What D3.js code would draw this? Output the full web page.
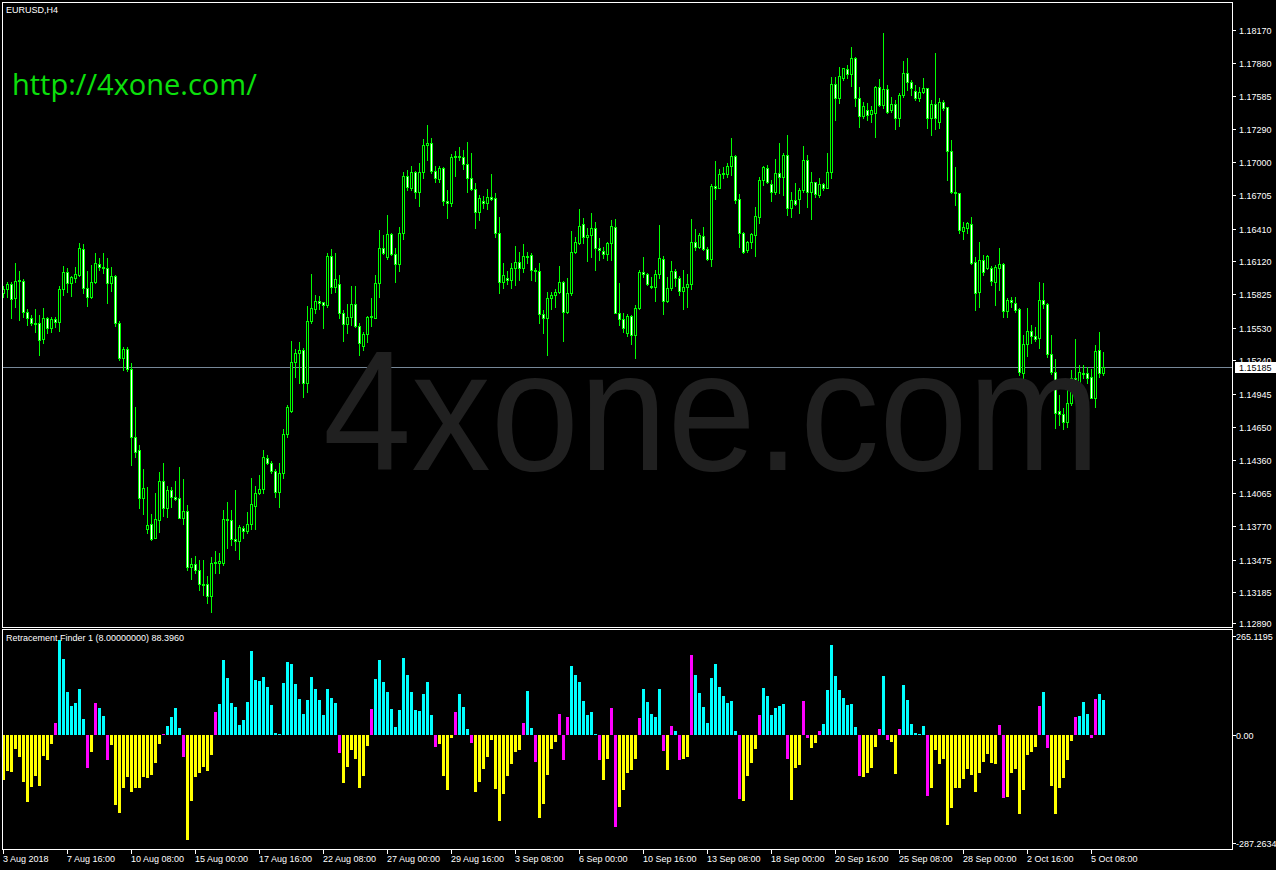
<!DOCTYPE html>
<html>
<head>
<meta charset="utf-8">
<script src="https://cdn.jsdelivr.net/npm/d3@7"></script>
<style>
html, body { margin: 0; padding: 0; background: #000; overflow: hidden; }
svg { display: block; }
text { font-family: "Liberation Sans", Arial, sans-serif; font-size: 9px; fill: #fff; }
</style>
</head>
<body>
<div id="chart"></div>
<script>
// EURUSD H4, 3 Aug 2018 00:00 .. 5 Oct 2018 20:00 (one value per bar)
var open = [
1.15835,1.15871,1.15918,1.15791,1.15941,1.15944,1.15667,1.15616,1.15569,1.15569,
1.15427,1.15613,1.15525,1.15604,1.15578,1.15871,1.16027,1.15930,1.15974,1.15998,
1.16225,1.15879,1.15805,1.15938,1.16095,1.16072,1.16057,1.15924,1.15989,1.15569,
1.15265,1.15341,1.15161,1.14564,1.14446,1.14017,1.13742,1.13789,1.13668,1.13825,
1.14171,1.13934,1.14091,1.14032,1.14017,1.13846,1.13905,1.13411,1.13435,1.13382,
1.13257,1.13257,1.13154,1.13441,1.13441,1.13441,1.13822,1.13825,1.13654,1.13639,
1.13754,1.13727,1.13789,1.13952,1.14061,1.14097,1.14372,1.14327,1.14259,1.14070,
1.14239,1.14588,1.14795,1.15223,1.15303,1.15333,1.15037,1.15590,1.15693,1.15767,
1.15755,1.15732,1.16166,1.15894,1.15918,1.15658,1.15560,1.15628,1.15738,1.15546,
1.15371,1.15472,1.15625,1.15619,1.15924,1.16234,1.16154,1.16358,1.16181,1.16092,
1.16367,1.16876,1.16766,1.16908,1.16731,1.16908,1.17151,1.17165,1.16923,1.16846,
1.16944,1.16651,1.16633,1.17041,1.17053,1.17047,1.16979,1.16855,1.16763,1.16559,
1.16654,1.16639,1.16687,1.16678,1.16373,1.15939,1.15968,1.15953,1.16057,1.16110,
1.16057,1.16166,1.16172,1.16042,1.16030,1.15649,1.15613,1.15791,1.15820,1.15850,
1.15938,1.15666,1.15841,1.16204,1.16278,1.16447,1.16331,1.16352,1.16411,1.16237,
1.16207,1.16181,1.16278,1.16426,1.15663,1.15604,1.15480,1.15634,1.15465,1.15702,
1.16027,1.16006,1.15903,1.15888,1.16003,1.16136,1.15770,1.15879,1.16036,1.15968,
1.15859,1.15894,1.15915,1.16287,1.16249,1.16343,1.16225,1.16136,1.16787,1.16772,
1.16893,1.16893,1.16964,1.17053,1.16668,1.16373,1.16219,1.16290,1.16352,1.16515,
1.16840,1.16943,1.16801,1.16731,1.16899,1.16864,1.17062,1.16589,1.16663,1.16668,
1.16751,1.17017,1.16736,1.16819,1.16707,1.16801,1.16772,1.16907,1.17688,1.17564,
1.17747,1.17824,1.17777,1.17918,1.17564,1.17410,1.17460,1.17422,1.17431,1.17661,
1.17505,1.17646,1.17460,1.17513,1.17392,1.17593,1.17785,1.17711,1.17632,1.17570,
1.17617,1.17652,1.17392,1.17513,1.17351,1.17528,1.17484,1.17097,1.16736,1.16721,
1.16390,1.16411,1.16446,1.16109,1.15849,1.16130,1.16056,1.16056,1.15938,1.16056,
1.16095,1.15681,1.15775,1.15746,1.15695,1.15131,1.15382,1.15500,1.15456,1.15441,
1.15775,1.15737,1.15293,1.15140,1.14791,1.14764,1.14690,1.14859,1.15081,1.15030,
1.15125,1.15125,1.15090,1.14909,1.15332,1.15125];

var high = [
1.15900,1.15938,1.15938,1.16107,1.16033,1.15959,1.15693,1.15643,1.15696,1.15643,
1.15702,1.15628,1.15622,1.15622,1.15900,1.16077,1.16057,1.15989,1.16066,1.16278,
1.16273,1.16033,1.16086,1.16190,1.16145,1.16190,1.16145,1.16066,1.15998,1.15590,
1.15356,1.15362,1.15214,1.14830,1.14490,1.14280,1.14121,1.13878,1.14067,1.14251,
1.14333,1.14126,1.14121,1.14171,1.14295,1.14189,1.13958,1.13485,1.13506,1.13470,
1.13470,1.13328,1.13500,1.13550,1.13535,1.13914,1.13985,1.13914,1.14091,1.13781,
1.13772,1.13896,1.14197,1.14126,1.14224,1.14446,1.14401,1.14348,1.14274,1.14327,
1.14629,1.14848,1.15412,1.15342,1.15401,1.15347,1.15723,1.16007,1.15820,1.15812,
1.15761,1.16190,1.16225,1.16190,1.15998,1.15687,1.15738,1.15900,1.15900,1.15569,
1.15495,1.15634,1.15791,1.15998,1.16397,1.16352,1.16530,1.16373,1.16234,1.16426,
1.16914,1.16929,1.16964,1.16920,1.16988,1.17204,1.17328,1.17210,1.16964,1.16964,
1.16958,1.16752,1.17071,1.17100,1.17130,1.17106,1.17177,1.17077,1.16811,1.16707,
1.16698,1.16760,1.16893,1.16728,1.16515,1.16101,1.16033,1.16101,1.16255,1.16205,
1.16273,1.16205,1.16190,1.16057,1.16101,1.15687,1.15850,1.15850,1.15874,1.16078,
1.15944,1.15968,1.16388,1.16337,1.16580,1.16500,1.16417,1.16544,1.16465,1.16323,
1.16243,1.16293,1.16485,1.16491,1.15924,1.15663,1.15649,1.15643,1.15731,1.16042,
1.16154,1.16012,1.15983,1.16042,1.16441,1.16166,1.15977,1.16122,1.16048,1.15989,
1.16042,1.16006,1.16494,1.16405,1.16367,1.16426,1.16249,1.16804,1.17008,1.16935,
1.16958,1.16988,1.17209,1.17062,1.16716,1.16382,1.16302,1.16373,1.16598,1.16864,
1.16964,1.16973,1.16840,1.17023,1.17165,1.17082,1.17239,1.16736,1.16810,1.16766,
1.17141,1.17062,1.16914,1.16825,1.16855,1.16810,1.17082,1.17756,1.17756,1.17839,
1.17836,1.17859,1.18016,1.17933,1.17661,1.17534,1.17519,1.17499,1.17676,1.17735,
1.18140,1.17682,1.17578,1.17549,1.17608,1.17895,1.17918,1.17726,1.17682,1.17667,
1.17741,1.17658,1.17549,1.17963,1.17564,1.17549,1.17490,1.17194,1.16958,1.16727,
1.16464,1.16470,1.16514,1.16160,1.16293,1.16174,1.16174,1.16077,1.16086,1.16239,
1.16106,1.15790,1.15805,1.15805,1.15707,1.15465,1.15701,1.15554,1.15539,1.15938,
1.15929,1.15746,1.15465,1.15252,1.14933,1.14815,1.14992,1.15155,1.15429,1.15199,
1.15199,1.15184,1.15163,1.15376,1.15489,1.15317];

var low = [
1.15805,1.15805,1.15613,1.15717,1.15599,1.15628,1.15554,1.15554,1.15495,1.15288,
1.15398,1.15480,1.15495,1.15534,1.15504,1.15820,1.15850,1.15814,1.15938,1.15989,
1.15835,1.15726,1.15791,1.15924,1.16042,1.16012,1.15752,1.15859,1.15545,1.15244,
1.15155,1.15146,1.14313,1.14387,1.13928,1.13878,1.13707,1.13648,1.13662,1.13721,
1.13860,1.13855,1.13943,1.14002,1.13840,1.13789,1.13382,1.13299,1.13358,1.13204,
1.13160,1.13092,1.13012,1.13352,1.13358,1.13426,1.13574,1.13603,1.13559,1.13476,
1.13662,1.13707,1.13742,1.13742,1.14053,1.14067,1.14319,1.14245,1.14032,1.13943,
1.14200,1.14558,1.14786,1.15096,1.15043,1.14913,1.14963,1.15569,1.15664,1.15693,
1.15525,1.15717,1.15835,1.15850,1.15613,1.15415,1.15480,1.15554,1.15540,1.15288,
1.15333,1.15407,1.15546,1.15613,1.15806,1.16184,1.16137,1.16172,1.15939,1.16033,
1.16317,1.16752,1.16752,1.16684,1.16613,1.16861,1.17018,1.16899,1.16825,1.16825,
1.16619,1.16506,1.16613,1.16879,1.17018,1.16941,1.16737,1.16752,1.16412,1.16486,
1.16595,1.16583,1.16663,1.16338,1.15841,1.15885,1.15915,1.15880,1.15909,1.15953,
1.16027,1.16101,1.15953,1.15948,1.15569,1.15486,1.15288,1.15693,1.15717,1.15835,
1.15415,1.15658,1.15820,1.16196,1.16272,1.16284,1.16125,1.16154,1.16042,1.16130,
1.16145,1.16130,1.16130,1.15658,1.15554,1.15495,1.15457,1.15386,1.15258,1.15693,
1.15983,1.15909,1.15879,1.15770,1.15968,1.15649,1.15761,1.15864,1.15903,1.15820,
1.15693,1.15717,1.15870,1.16219,1.16234,1.16219,1.16130,1.16080,1.16671,1.16766,
1.16855,1.16869,1.16884,1.16639,1.16249,1.16196,1.16204,1.16234,1.16166,1.16456,
1.16796,1.16810,1.16657,1.16716,1.16722,1.16707,1.16530,1.16515,1.16618,1.16544,
1.16736,1.16598,1.16491,1.16686,1.16692,1.16751,1.16766,1.16854,1.17372,1.17519,
1.17726,1.17741,1.17673,1.17496,1.17312,1.17386,1.17372,1.17357,1.17224,1.17499,
1.17481,1.17431,1.17445,1.17292,1.17321,1.17573,1.17638,1.17593,1.17549,1.17540,
1.17608,1.17298,1.17239,1.17292,1.17298,1.17460,1.16839,1.16721,1.16618,1.16366,
1.16316,1.16366,1.16092,1.15687,1.15716,1.15997,1.16047,1.15908,1.15731,1.15864,
1.15627,1.15627,1.15716,1.15672,1.15110,1.15042,1.15282,1.15391,1.15412,1.15353,
1.15701,1.15273,1.15116,1.14637,1.14667,1.14631,1.14652,1.14844,1.14992,1.14918,
1.15081,1.15042,1.14903,1.14829,1.15095,1.15110];

var close = [
1.15871,1.15918,1.15782,1.15947,1.15950,1.15667,1.15613,1.15569,1.15560,1.15421,
1.15613,1.15525,1.15607,1.15578,1.15871,1.16027,1.15930,1.15977,1.16004,1.16234,
1.15879,1.15805,1.15938,1.16101,1.16066,1.16057,1.15924,1.15989,1.15569,1.15265,
1.15341,1.15161,1.14564,1.14431,1.14017,1.14106,1.13781,1.13656,1.13831,1.14171,
1.13934,1.14091,1.14026,1.14014,1.13846,1.13905,1.13411,1.13435,1.13382,1.13255,
1.13249,1.13154,1.13441,1.13453,1.13461,1.13831,1.13831,1.13654,1.13639,1.13766,
1.13727,1.13789,1.13964,1.14061,1.14097,1.14381,1.14327,1.14259,1.14070,1.14239,
1.14588,1.14830,1.15223,1.15303,1.15333,1.15037,1.15590,1.15702,1.15767,1.15752,
1.15732,1.16166,1.15894,1.15959,1.15658,1.15560,1.15628,1.15738,1.15548,1.15392,
1.15472,1.15625,1.15634,1.15924,1.16234,1.16196,1.16358,1.16181,1.16092,1.16367,
1.16876,1.16775,1.16908,1.16731,1.16908,1.17151,1.17165,1.16923,1.16855,1.16944,
1.16657,1.16633,1.17041,1.17053,1.17044,1.16979,1.16855,1.16763,1.16559,1.16678,
1.16639,1.16687,1.16669,1.16373,1.15939,1.15998,1.15953,1.16057,1.16110,1.16057,
1.16166,1.16154,1.16042,1.16033,1.15649,1.15613,1.15791,1.15820,1.15850,1.15939,
1.15672,1.15841,1.16204,1.16293,1.16435,1.16331,1.16352,1.16411,1.16234,1.16222,
1.16181,1.16278,1.16435,1.15663,1.15604,1.15524,1.15634,1.15465,1.15702,1.16027,
1.16006,1.15918,1.15888,1.16003,1.16145,1.15770,1.15879,1.16036,1.15968,1.15859,
1.15894,1.15915,1.16287,1.16249,1.16352,1.16225,1.16136,1.16787,1.16772,1.16893,
1.16899,1.16964,1.17053,1.16663,1.16373,1.16204,1.16290,1.16361,1.16524,1.16840,
1.16952,1.16825,1.16731,1.16899,1.16864,1.17062,1.16589,1.16663,1.16624,1.16751,
1.17017,1.16736,1.16819,1.16716,1.16801,1.16772,1.16908,1.17688,1.17570,1.17762,
1.17830,1.17777,1.17918,1.17564,1.17410,1.17496,1.17416,1.17460,1.17667,1.17505,
1.17646,1.17445,1.17513,1.17392,1.17593,1.17785,1.17711,1.17652,1.17564,1.17617,
1.17652,1.17392,1.17513,1.17386,1.17528,1.17475,1.17097,1.16736,1.16721,1.16396,
1.16426,1.16455,1.16100,1.15840,1.16130,1.16027,1.16165,1.15947,1.16065,1.16095,
1.15681,1.15775,1.15755,1.15687,1.15140,1.15382,1.15500,1.15459,1.15429,1.15775,
1.15737,1.15293,1.15140,1.14770,1.14761,1.14690,1.14859,1.15081,1.15030,1.15134,
1.15116,1.15087,1.14909,1.15323,1.15125,1.15185];

// Retracement Finder 1 (8) histogram
var finder = [
-115,-92,-94,-36,-56,-120,-171,-133,-105,-130,
-54,-64,-23,31,242,194,110,74,82,117,
41,-84,-43,82,69,48,-64,-26,-179,-199,
-135,-107,-145,-135,-135,-107,-110,-102,-71,-23,
2,23,46,69,18,-56,-268,-168,-107,-97,
-82,-92,-51,59,79,191,145,82,71,26,
38,84,214,140,138,148,122,77,5,3,
133,186,181,130,92,54,89,148,117,89,
51,117,94,82,-46,-122,-82,-38,-61,-135,
-105,-28,66,143,191,135,110,66,20,64,
196,153,110,64,61,105,135,51,-31,-23,
-105,-140,-8,59,105,71,15,-20,-145,-120,
-87,-56,-13,-138,-219,-150,-105,-74,-43,-38,
31,112,18,-69,-212,-176,-102,-36,-18,54,
-64,46,176,153,135,87,51,59,3,-64,
-115,-61,69,-235,-184,-140,-97,-89,-61,43,
117,84,54,46,117,-41,-89,23,10,-64,
-61,-56,204,153,107,71,31,145,181,122,
99,82,87,10,-163,-168,-105,-71,-36,51,
120,99,51,69,74,79,-61,-166,-84,-77,
87,-8,-33,-20,10,28,115,230,150,115,
94,77,79,20,-105,-107,-97,-84,-31,15,
150,-13,-18,-99,15,128,89,28,5,3,
23,-156,-135,-38,-74,-61,-230,-186,-135,-135,
-112,-87,-102,-145,-97,-69,-48,-71,-74,26,
-161,-158,-97,-87,-201,-140,-51,-43,-31,74,
110,-33,-130,-201,-135,-110,-64,-15,46,48,
84,54,-8,92,105,89];

var priceTicks = ["1.18170","1.17880","1.17585","1.17290","1.17000","1.16705","1.16410","1.16120","1.15825",
                  "1.15530","1.15240","1.14945","1.14650","1.14360","1.14065","1.13770","1.13475","1.13185","1.12890"];
var timeTickBars = [0,16,32,48,64,80,96,112,128,144,160,176,192,208,224,240,256,272];
var timeTickLabels = ["3 Aug 2018","7 Aug 16:00","10 Aug 08:00","15 Aug 00:00","17 Aug 16:00","22 Aug 08:00",
                      "27 Aug 00:00","29 Aug 16:00","3 Sep 08:00","6 Sep 00:00","10 Sep 16:00","13 Sep 08:00",
                      "18 Sep 00:00","20 Sep 16:00","25 Sep 08:00","28 Sep 00:00","2 Oct 16:00","5 Oct 08:00"];
var subTicks = [265.1195, 0, -287.2634];
var subTickLabels = ["265.1195","0.00","-287.2634"];
var bid = 1.15185;

var width = 1276, height = 870,
    main = {left: 2, right: 1232, top: 2, bottom: 627},
    sub = {top: 629, bottom: 849},
    lime = "#00ff00";

var svg = d3.select("#chart").append("svg")
    .attr("width", width)
    .attr("height", height);

svg.append("rect").attr("width", width).attr("height", height).attr("fill", "#000");

var x = d3.scaleLinear().domain([0, 1]).range([3, 7]);   // 4px per bar
var y = d3.scaleLinear().domain([1.12890, 1.18170]).range([625.5, 30]);
var yh = d3.scaleLinear().domain([-287.2634, 265.1195]).range([847.6, 631.1]);

var g = svg.append("g").attr("shape-rendering", "crispEdges");

// watermark + url
svg.append("text")
    .attr("x", 323).attr("y", 470)
    .attr("textLength", 777).attr("lengthAdjust", "spacingAndGlyphs")
    .style("font-family", "'Liberation Sans', Arial, sans-serif")
    .style("font-size", "170px")
    .style("fill", "#202020")
    .text("4xone.com");

svg.append("text")
    .attr("x", 12).attr("y", 95)
    .style("font-family", "'Open Sans', sans-serif")
    .style("font-size", "29px")
    .style("fill", "#0ce00c")
    .text("http://4xone.com/");

svg.append("text").attr("x", 6).attr("y", 13).text("EURUSD,H4");

// bid line
g.append("rect")
    .attr("x", main.left + 1).attr("y", Math.round(y(bid)))
    .attr("width", main.right - main.left - 1).attr("height", 1)
    .attr("fill", "#778899");

// candles
var idx = d3.range(open.length);
var candle = g.append("g").selectAll("g")
    .data(idx)
    .enter().append("g");

function bodyTop(i) { return Math.round(y(Math.max(open[i], close[i]))); }
function bodyBot(i) { return Math.round(y(Math.min(open[i], close[i]))); }

candle.append("rect")
    .attr("x", function(i) { return Math.round(x(i)); })
    .attr("y", function(i) { return Math.round(y(high[i])); })
    .attr("width", 1)
    .attr("height", function(i) { return Math.max(1, Math.round(y(low[i])) - Math.round(y(high[i])) + 1); })
    .attr("fill", lime);

candle.append("rect")
    .attr("x", function(i) { return Math.round(x(i)) - 1; })
    .attr("y", bodyTop)
    .attr("width", 3)
    .attr("height", function(i) { return bodyBot(i) - bodyTop(i) + 1; })
    .attr("fill", lime);

candle.filter(function(i) { return bodyBot(i) - bodyTop(i) >= 2; })
    .append("rect")
    .attr("x", function(i) { return Math.round(x(i)); })
    .attr("y", function(i) { return bodyTop(i) + 1; })
    .attr("width", 1)
    .attr("height", function(i) { return bodyBot(i) - bodyTop(i) - 1; })
    .attr("fill", function(i) { return close[i] < open[i] ? "#ffffff" : "#000000"; });

// histogram: magenta where the sign flips
function barColor(i) {
    var v = finder[i];
    if (i > 0 && (v > 0) !== (finder[i - 1] > 0)) return "#ff00ff";
    return v > 0 ? "#00ffff" : "#ffff00";
}
var zero = Math.round(yh(0));
g.append("g").selectAll("rect")
    .data(idx)
    .enter().append("rect")
    .attr("x", function(i) { return Math.round(x(i)) - 1; })
    .attr("y", function(i) { return finder[i] > 0 ? Math.round(yh(finder[i])) : zero; })
    .attr("width", 3)
    .attr("height", function(i) { return Math.max(1, Math.abs(Math.round(yh(finder[i])) - zero)); })
    .attr("fill", barColor);

// frames
g.append("rect")
    .attr("x", main.left + 0.5).attr("y", main.top + 0.5)
    .attr("width", main.right - main.left).attr("height", main.bottom - main.top)
    .attr("fill", "none").attr("stroke", "#fff");
g.append("rect")
    .attr("x", main.left + 0.5).attr("y", sub.top + 0.5)
    .attr("width", main.right - main.left).attr("height", sub.bottom - sub.top)
    .attr("fill", "none").attr("stroke", "#fff");

// price axis
var pt = svg.append("g").selectAll("g")
    .data(priceTicks)
    .enter().append("g")
    .attr("transform", function(d) { return "translate(0," + Math.min(623, Math.round(y(+d))) + ")"; });
pt.append("rect").attr("x", main.right + 1).attr("y", 0).attr("width", 3).attr("height", 1).attr("fill", "#fff")
    .attr("shape-rendering", "crispEdges");
pt.append("text").attr("x", main.right + 7).attr("y", 3.5).text(function(d) { return d; });

// bid label
svg.append("rect")
    .attr("x", main.right + 3).attr("y", Math.round(y(bid)) - 5)
    .attr("width", 41).attr("height", 11)
    .attr("fill", "#fff").attr("shape-rendering", "crispEdges");
svg.append("text")
    .attr("x", main.right + 7).attr("y", Math.round(y(bid)) + 4)
    .style("fill", "#000")
    .text(bid.toFixed(5));

// indicator axis
var st = svg.append("g").selectAll("g")
    .data(subTicks)
    .enter().append("g")
    .attr("transform", function(d) {
        var p = Math.round(yh(d));
        return "translate(0," + Math.max(sub.top + 7, Math.min(sub.bottom - 6, p)) + ")";
    });
st.append("rect").attr("x", main.right + 1).attr("y", 0).attr("width", 3).attr("height", 1).attr("fill", "#fff")
    .attr("shape-rendering", "crispEdges");
st.append("text").attr("x", main.right + 4).attr("y", 3.5).text(function(d, i) { return subTickLabels[i]; });

svg.append("text").attr("x", 6).attr("y", 641).text("Retracement Finder 1 (8.00000000) 88.3960");

// time axis
var tt = svg.append("g").selectAll("g")
    .data(timeTickBars)
    .enter().append("g")
    .attr("transform", function(d) { return "translate(" + Math.round(x(d)) + ",0)"; });
tt.append("rect").attr("x", 0).attr("y", sub.bottom + 1).attr("width", 1).attr("height", 4).attr("fill", "#fff")
    .attr("shape-rendering", "crispEdges");
tt.append("text").attr("x", 0).attr("y", 862).text(function(d, i) { return timeTickLabels[i]; });
</script>
</body>
</html>
